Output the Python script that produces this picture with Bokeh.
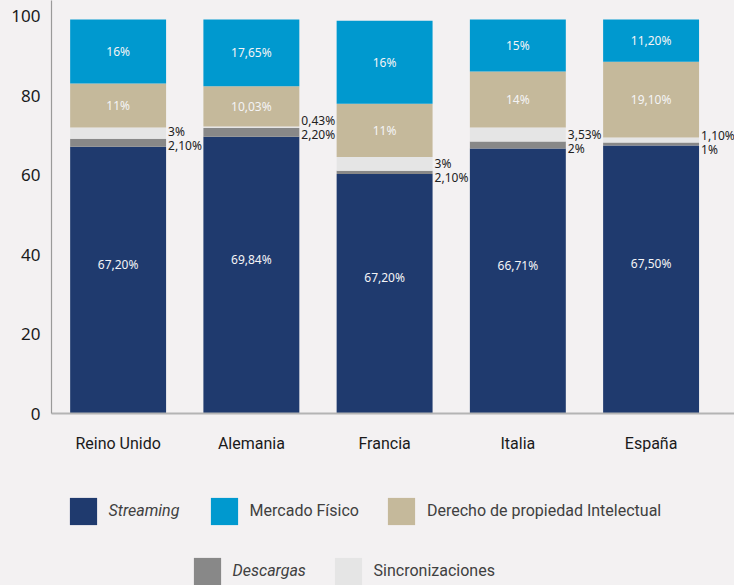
from bokeh.plotting import figure
from bokeh.layouts import column
from bokeh.models import ColumnDataSource, FixedTicker, Legend, LegendItem, Range1d
from bokeh.core.properties import value
from bokeh.embed import file_html
from bokeh.resources import INLINE

# ---- data ----
categories = ["Reino Unido", "Alemania", "Francia", "Italia", "España"]
streaming = [67.2, 69.7, 60.3, 66.7, 67.5]
descargas = [2.0, 2.2, 0.8, 1.8, 0.75]
sincronizaciones = [2.8, 0.4, 3.5, 3.5, 1.25]
derecho = [11.1, 10.1, 13.4, 14.1, 19.1]
mercado = [16.1, 16.8, 20.9, 13.1, 10.6]

lab_streaming = ["67,20%", "69,84%", "67,20%", "66,71%", "67,50%"]
lab_descargas = ["2,10%", "2,20%", "2,10%", "2%", "1%"]
lab_sincronizaciones = ["3%", "0,43%", "3%", "3,53%", "1,10%"]
lab_derecho = ["11%", "10,03%", "11%", "14%", "19,10%"]
lab_mercado = ["16%", "17,65%", "16%", "15%", "11,20%"]

y_ticks = [0, 20, 40, 60, 80, 100]

series_keys = ["streaming", "descargas", "sincronizaciones", "derecho", "mercado"]
series_names = ["Streaming", "Descargas", "Sincronizaciones",
                "Derecho de propiedad Intelectual", "Mercado Físico"]
colors = ["#1f3a6e", "#888888", "#e5e5e5", "#c5b99b", "#0099cf"]

BG = "#f3f1f2"
BAR_W = 0.72
W = 734
H_MAIN = 455
H_LEG = 130
LEFT = 51
x = list(range(len(categories)))

src = ColumnDataSource(dict(x=x, streaming=streaming, descargas=descargas,
                            sincronizaciones=sincronizaciones, derecho=derecho,
                            mercado=mercado))

p = figure(width=W, height=H_MAIN, output_backend="svg", toolbar_location=None,
           x_range=Range1d(-0.5, 4.626), y_range=Range1d(0, 104.0),
           min_border_left=LEFT, min_border_right=0, min_border_top=0,
           min_border_bottom=42)
p.background_fill_color = BG
p.border_fill_color = BG
p.outline_line_color = None
p.grid.visible = False

p.vbar_stack(series_keys, x="x", width=BAR_W, color=colors,
             line_color=None, source=src)

# ---- labels ----
def cum(*arrs):
    return [sum(v) for v in zip(*arrs)]

base2 = cum(streaming, descargas)
base3 = cum(streaming, descargas, sincronizaciones)
base4 = cum(streaming, descargas, sincronizaciones, derecho)

inside = ColumnDataSource(dict(
    x=x * 3,
    y=[s / 2 for s in streaming] + [b + d / 2 for b, d in zip(base3, derecho)]
      + [b + m / 2 for b, m in zip(base4, mercado)],
    off=[-16] * 5 + [0] * 10,
    t=lab_streaming + lab_derecho + lab_mercado,
))
p.text(x="x", y="y", text="t", y_offset="off", source=inside,
       text_align="center", text_baseline="middle",
       text_color="#f4f4f6", text_font=value("Noto Sans"), text_font_size="12px")

outside = ColumnDataSource(dict(
    x=[v + BAR_W / 2 for v in x] * 2,
    y=base2 * 2,
    off=[-7] * 5 + [7] * 5,
    t=lab_sincronizaciones + lab_descargas,
))
p.text(x="x", y="y", text="t", y_offset="off", x_offset=2, source=outside,
       text_align="left", text_baseline="middle",
       text_color="#222222", text_font=value("Noto Sans"), text_font_size="12px")

# ---- axes ----
p.yaxis.ticker = FixedTicker(ticks=y_ticks)
p.yaxis.major_tick_line_color = None
p.yaxis.minor_tick_line_color = None
p.yaxis.major_tick_out = 0
p.yaxis.major_label_standoff = 11
p.yaxis.axis_line_color = "#9a9a9a"
p.yaxis.axis_line_width = 1.2
p.yaxis.major_label_text_font = "Noto Sans"
p.yaxis.major_label_text_font_size = "17px"
p.yaxis.major_label_text_color = "#1a1a1a"

p.xaxis.ticker = FixedTicker(ticks=x)
p.xaxis.major_label_overrides = {i: c for i, c in zip(x, categories)}
p.xaxis.major_tick_line_color = None
p.xaxis.minor_tick_line_color = None
p.xaxis.major_tick_out = 0
p.xaxis.major_label_standoff = 20
p.xaxis.axis_line_color = "#b4b4b4"
p.xaxis.axis_line_width = 2
p.xaxis.major_label_text_font = "Roboto"
p.xaxis.major_label_text_font_size = "16px"
p.xaxis.major_label_text_color = "#1a1a1a"

# ---- legend panel (same series, drawn off-range so only the legend shows) ----
lf = figure(width=W, height=H_LEG, output_backend="svg", toolbar_location=None,
            x_range=Range1d(-1001, -1000), y_range=Range1d(0, 1),
            x_axis_location=None, y_axis_location=None,
            min_border_left=LEFT, min_border_right=0,
            min_border_top=0, min_border_bottom=0)
lf.grid.visible = False
lf.outline_line_color = None
lf.background_fill_color = BG
lf.border_fill_color = BG

lrs = lf.vbar_stack(series_keys, x="x", width=BAR_W, color=colors,
                    line_color=None, source=src)
lr = dict(zip(series_keys, lrs))

GLYPH = 34      # Bokeh insets area glyphs by 10% -> ~27px visible square
INSET = 3.4

def make_legend(keys, loc, italic=False):
    items = [LegendItem(label=series_names[series_keys.index(k)], renderers=[lr[k]])
             for k in keys]
    lg = Legend(items=items, location=loc, orientation="horizontal",
                glyph_width=GLYPH, glyph_height=GLYPH, label_standoff=9, spacing=25,
                padding=0, margin=0, border_line_color=None,
                background_fill_alpha=0, label_text_font="Roboto",
                label_text_font_size="16px", label_text_color="#404040",
                label_text_font_style="italic" if italic else "normal")
    lf.add_layout(lg, "center")

row1 = 74.5 - GLYPH / 2
row2 = 14.5 - GLYPH / 2
make_legend(["streaming"], (69 - INSET - LEFT, row1), italic=True)
make_legend(["mercado", "derecho"], (210 - INSET - LEFT, row1))
make_legend(["descargas"], (193 - INSET - LEFT, row2), italic=True)
make_legend(["sincronizaciones"], (334 - INSET - LEFT, row2))

layout = column(p, lf, spacing=0)
html = file_html(layout, INLINE)
html = html.replace("<head>", "<head><style>html, body { background: %s; }</style>" % BG, 1)
open("out.html", "w").write(html)
